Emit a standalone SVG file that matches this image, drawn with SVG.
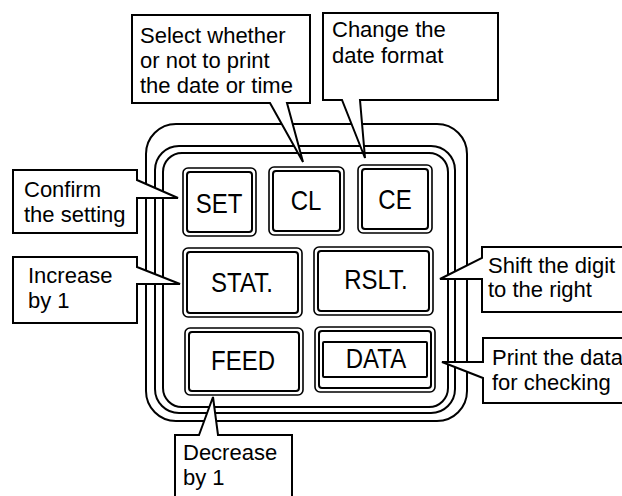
<svg xmlns="http://www.w3.org/2000/svg" width="622" height="496" viewBox="0 0 622 496">
<style>
.ring{fill:none;stroke:#000;stroke-width:2}
.bo{fill:#fff;stroke:#000;stroke-width:1.6}
.bi{fill:none;stroke:#000;stroke-width:2}
.bt{font-family:"Liberation Sans",Arial,sans-serif;font-size:24px;text-anchor:middle;fill:#000}
.co{fill:#fff;stroke:#000;stroke-width:2;stroke-linejoin:miter}
.ct{font-family:"Liberation Sans",Arial,sans-serif;font-size:22px;fill:#000}
</style>
<rect width="622" height="496" fill="#fff"/>
<g id="panel">
<rect class="ring" x="146" y="124" width="321" height="297" rx="30" stroke-width="2.4"/>
<rect class="ring" x="155" y="146" width="300" height="267" rx="24"/>
<rect class="ring" x="163" y="153" width="285" height="254" rx="19"/>
</g>
<g id="btn-set">
<rect class="bo" x="183" y="168" width="73" height="68" rx="5"/>
<rect class="bi" x="187" y="172" width="65" height="60" rx="3"/>
<text class="bt" transform="translate(219,213) scale(1,1.17)">SET</text>
</g>
<g id="btn-cl">
<rect class="bo" x="269" y="167" width="75" height="68" rx="5"/>
<rect class="bi" x="273" y="171" width="67" height="60" rx="3"/>
<text class="bt" transform="translate(306,210) scale(1,1.17)">CL</text>
</g>
<g id="btn-ce">
<rect class="bo" x="358" y="165" width="74" height="68" rx="5"/>
<rect class="bi" x="362" y="169" width="66" height="60" rx="3"/>
<text class="bt" transform="translate(395,209) scale(1,1.17)">CE</text>
</g>
<g id="btn-stat">
<rect class="bo" x="183" y="248" width="119" height="69" rx="5"/>
<rect class="bi" x="187" y="252" width="111" height="61" rx="3"/>
<text class="bt" transform="translate(242,292) scale(1,1.17)">STAT.</text>
</g>
<g id="btn-rslt">
<rect class="bo" x="314" y="247" width="119" height="68" rx="5"/>
<rect class="bi" x="318" y="251" width="111" height="60" rx="3"/>
<text class="bt" transform="translate(376,289) scale(1,1.17)">RSLT.</text>
</g>
<g id="btn-feed">
<rect class="bo" x="185" y="328" width="118" height="67" rx="5"/>
<rect class="bi" x="189" y="332" width="110" height="59" rx="3"/>
<text class="bt" transform="translate(243,370) scale(1,1.17)">FEED</text>
</g>
<g id="btn-data">
<rect class="bo" x="315" y="327" width="120" height="65" rx="5"/>
<rect class="bi" x="319" y="331" width="112" height="57" rx="3"/>
<rect class="bi" x="323" y="342" width="104" height="35" rx="1"/>
<text class="bt" transform="translate(376,368) scale(1,1.17)">DATA</text>
</g>
<g id="connectors">
<g id="callout-select">
<path class="co" d="M132,15 H310 V103 H287 L303,162 L270,103 H132 Z"/>
<text class="ct" x="140" y="43">Select whether</text>
<text class="ct" x="140" y="68">or not to print</text>
<text class="ct" x="140" y="93">the date or time</text>
</g>
<g id="callout-change">
<path class="co" d="M323,13 H498 V100 H360 L365,158 L342,100 H323 Z"/>
<text class="ct" x="332" y="37">Change the</text>
<text class="ct" x="332" y="63">date format</text>
</g>
<g id="callout-confirm">
<path class="co" d="M13,170 H137 V180 L178,198 H137 V233 H13 Z"/>
<text class="ct" x="24" y="197">Confirm</text>
<text class="ct" x="24" y="222">the setting</text>
</g>
<g id="callout-increase">
<path class="co" d="M13,257 H137 V267 L180,284 H137 V323 H13 Z"/>
<text class="ct" x="28" y="283">Increase</text>
<text class="ct" x="28" y="308">by 1</text>
</g>
<g id="callout-shift">
<path class="co" d="M482,247 H630 V312 H482 V279 H440 L482,258 Z"/>
<text class="ct" x="488" y="273">Shift the digit</text>
<text class="ct" x="488" y="297">to the right</text>
</g>
<g id="callout-print">
<path class="co" d="M483,338 H630 V403 H483 V378 L442,362 H483 Z"/>
<text class="ct" x="492" y="365">Print the data</text>
<text class="ct" x="492" y="390">for checking</text>
</g>
<g id="callout-decrease">
<path class="co" d="M175,500 V435 H199 L213,397 L218,435 H292 V500"/>
<text class="ct" x="183" y="460">Decrease</text>
<text class="ct" x="183" y="485">by 1</text>
</g>
</g>
</svg>
